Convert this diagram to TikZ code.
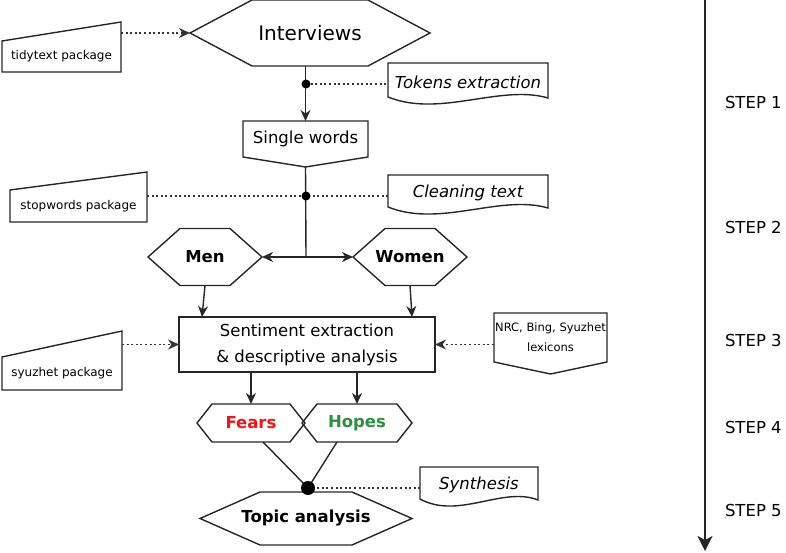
\documentclass[tikz,border=0pt]{standalone}
\usepackage{fontspec}
\setmainfont{DejaVu Sans}
\usetikzlibrary{arrows.meta,calc}

\definecolor{fearred}{RGB}{240,20,20}
\definecolor{hopegreen}{RGB}{40,145,60}

\newcommand{\hexa}[2]{\draw[shp] (#1.west) -- ([xshift=#2]#1.north west) -- ([xshift=-#2]#1.north east) -- (#1.east) -- ([xshift=-#2]#1.south east) -- ([xshift=#2]#1.south west) -- cycle;}
\newcommand{\manin}[2]{\draw[shp] (#1.south west) -- (#1.north west) -- ([yshift=#2]#1.north east) -- (#1.south east) -- cycle;}
\newcommand{\offpage}[2]{\draw[shp] (#1.north west) -- (#1.north east) -- (#1.south east) -- ([yshift=-#2]#1.south) -- (#1.south west) -- cycle;}
\newcommand{\docshape}[1]{\draw[shp] (#1.north west) -- (#1.north east) -- ([yshift=3pt]#1.south east) .. controls ($(#1.south)!0.4!(#1.south east)+(0,17pt)$) and ($(#1.south)!0.35!(#1.south west)+(0,-17pt)$) .. ([yshift=4pt]#1.south west) -- cycle;}

\begin{document}
\begin{tikzpicture}[x=1pt,y=-1pt,
  every node/.style={inner sep=0pt, outer sep=0pt, align=center, text=black},
  shp/.style={draw=black!85, line width=1.4pt, line join=miter},
  link/.style={draw=black!85, line width=1.4pt},
  arr/.style={link, -{Stealth[length=11pt,width=10pt,inset=3.5pt]}},
  dots/.style={draw=black!80, line width=1.4pt, dash pattern=on 2pt off 2.6pt},
  darr/.style={dots, -{Stealth[length=11pt,width=10pt,inset=3.5pt]}},
  big/.style={font=\fontsize{20}{24}\selectfont},
  txt/.style={font=\fontsize{16.5}{26}\selectfont},
  hdr/.style={font=\fontsize{16.5}{20}\selectfont\bfseries},
  itl/.style={font=\fontsize{16.5}{20}\selectfont\itshape},
  pkg/.style={font=\fontsize{12}{14}\selectfont},
  lex/.style={font=\fontsize{11.5}{20}\selectfont},
  steplbl/.style={anchor=west, font=\fontsize{16.5}{20}\selectfont}]

\useasboundingbox (0,0) rectangle (786,553);

\node[big, minimum width=240pt, minimum height=66pt] (intv) at (310,33) {Interviews};
\node[pkg, minimum width=119pt, minimum height=31pt] (tidy) at (61.5,56.5) {tidytext package};
\node[itl, minimum width=160pt, minimum height=38pt] (tokens) at (468,82) {Tokens extraction};
\node[txt, minimum width=125pt, minimum height=36pt] (single) at (305.5,139) {Single words};
\node[itl, minimum width=160pt, minimum height=36pt] (clean) at (468,193) {Cleaning text};
\node[pkg, minimum width=137pt, minimum height=32pt] (stop) at (78.5,206) {stopwords package};
\node[hdr, minimum width=114pt, minimum height=57pt] (men) at (205,257) {Men};
\node[hdr, minimum width=114pt, minimum height=57pt] (women) at (410,257) {Women};
\node[txt, minimum width=256pt, minimum height=55pt] (sent) at (307,344.5) {Sentiment extraction\\\& descriptive analysis};
\node[pkg, minimum width=120pt, minimum height=33pt] (syu) at (62,373.5) {syuzhet package};
\node[lex, minimum width=113pt, minimum height=49pt] (nrc) at (550.5,337.5) {NRC, Bing, Syuzhet\\lexicons};
\node[hdr, text=fearred, minimum width=108pt, minimum height=38pt] (fears) at (251,423) {Fears};
\node[hdr, text=hopegreen, minimum width=110pt, minimum height=38pt] (hopes) at (357,423) {Hopes};
\node[hdr, minimum width=212pt, minimum height=53pt] (topic) at (306,518.5) {Topic analysis};
\node[itl, minimum width=118pt, minimum height=36pt] (synth) at (479,485) {Synthesis};

\hexa{intv}{62pt}
\hexa{men}{32pt}
\hexa{women}{32pt}
\hexa{fears}{15pt}
\hexa{hopes}{15pt}
\hexa{topic}{60pt}
\manin{tidy}{19pt}
\manin{stop}{18pt}
\manin{syu}{26pt}
\offpage{single}{10pt}
\offpage{nrc}{12pt}
\docshape{tokens}
\docshape{clean}
\docshape{synth}
\draw[shp] (sent.north west) rectangle (sent.south east);

\coordinate (dot1) at (306,84);
\coordinate (dot2) at (306,196);
\coordinate (split) at (306,257);
\coordinate (dot3) at (308,488);

\draw[arr] (single.north |- intv.south) -- (single.north);
\draw[darr] (tidy.east |- intv.west) -- (intv.west);
\draw[dots] (dot1) -- (dot1 -| tokens.west);
\draw[link] ([yshift=-10pt]single.south) -- (split);
\draw[dots] (stop.east |- dot2) -- (dot2) -- (dot2 -| clean.west);
\draw[arr] (split) -- (men.east);
\draw[arr] (split) -- (women.west);
\draw[arr] (men.south) -- ([xshift=23pt]sent.north west);
\draw[arr] (women.south) -- ([xshift=-23pt]sent.north east);
\draw[darr] (syu.east |- sent.west) -- (sent.west);
\draw[darr] (nrc.west |- sent.east) -- (sent.east);
\draw[arr] (fears.north |- sent.south) -- (fears.north);
\draw[arr] (hopes.north |- sent.south) -- (hopes.north);
\draw[link] ([xshift=12pt]fears.south) -- (dot3);
\draw[link] ([xshift=-20pt]hopes.south) -- (dot3);
\draw[dots] (dot3) -- (dot3 -| synth.west);

\fill[black] (dot1) circle (4.5pt);
\fill[black] (dot2) circle (4.5pt);
\fill[black] (dot3) circle (7pt);

\coordinate (top) at (705,0);
\coordinate (bot) at (705,551);
\draw[link, line width=1.6pt, -{Stealth[length=15pt,width=15pt,inset=4pt]}] (top) -- (bot);
\node[steplbl] (s1) at (725,102) {STEP 1};
\node[steplbl] (s2) at (725,227) {STEP 2};
\node[steplbl] (s3) at (725,340) {STEP 3};
\node[steplbl] (s4) at (725,427) {STEP 4};
\node[steplbl] (s5) at (725,510) {STEP 5};
\end{tikzpicture}
\end{document}
